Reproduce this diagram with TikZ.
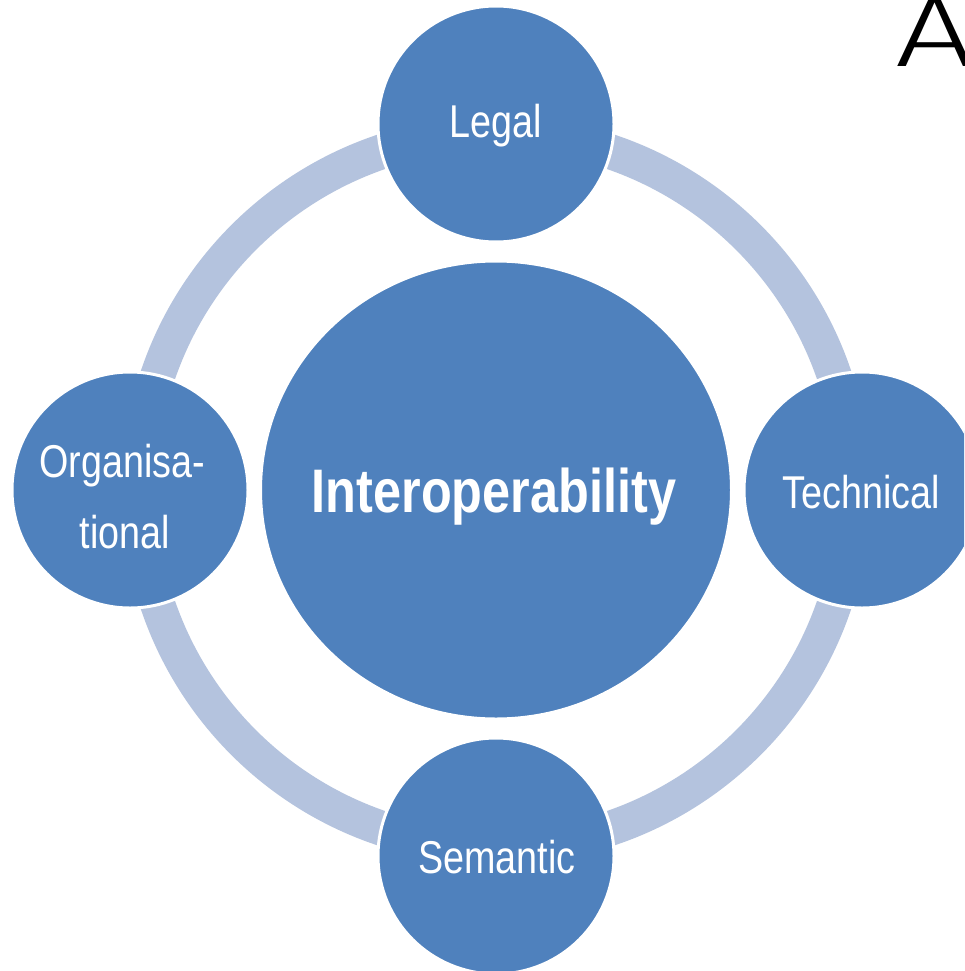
\documentclass[tikz,border=0pt]{standalone}
\usepackage{fontspec}
\usetikzlibrary{shapes.geometric}
\newfontfamily\narrowfont{Liberation Sans}[FakeStretch=0.82]
\IfFontExistsTF{Fira Sans Light}
  {\newfontfamily\thinfont{Fira Sans Light}[FakeStretch=1.4]}
  {\IfFontExistsTF{Lato Light}
    {\newfontfamily\thinfont{Lato Light}[FakeStretch=1.4]}
    {\IfFontExistsTF{Poppins Light}
      {\newfontfamily\thinfont{Poppins Light}[FakeStretch=1.4]}
      {\newfontfamily\thinfont{Liberation Sans}}}}
\definecolor{bubblefill}{RGB}{79,129,189}
\definecolor{ringcol}{RGB}{180,195,222}
\tikzset{
  bubble/.style={circle, fill=bubblefill, draw=white, line width=3pt, minimum size=236pt, inner sep=0pt},
  hub/.style={ellipse, fill=bubblefill, draw=white, line width=3pt, minimum width=471pt, minimum height=458pt, inner sep=0pt},
  ringline/.style={draw=ringcol, line width=35pt},
  lbl/.style={text=white, inner sep=0pt, anchor=base, font=\narrowfont\fontsize{46}{55}\selectfont},
  hublbl/.style={text=white, inner sep=0pt, anchor=base, font=\narrowfont\bfseries\fontsize{61.5}{70}\selectfont}
}
\begin{document}
\begin{tikzpicture}[x=1pt,y=-1pt]
\useasboundingbox (0,0) rectangle (964,971);
\clip (0,0) rectangle (964,971);
\fill[white] (0,0) rectangle (964,971);
\coordinate (c) at (496,490);
\draw[ringline] (c) circle (357pt);
\node[hub] (hub) at (c) {};
\node[bubble] (legal) at (496,124) {};
\node[bubble] (org) at (130,490) {};
\node[bubble] (tech) at (862,490) {};
\node[bubble] (sem) at (496,856) {};
\node[hublbl] (hubT) at (494,512) {Interoperability};
\node[lbl] (legalT) at (496,137) {Legal};
\node[lbl] (techT) at (861,508) {Technical};
\node[lbl] (semT) at (497,873) {Semantic};
\node[lbl] (orgT1) at (122,477) {Organisa-};
\node[lbl] (orgT2) at (125,548) {tional};
\node[anchor=base west, inner sep=0pt, font=\thinfont\fontsize{100}{100}\selectfont] (A) at (895,67) {A};
\end{tikzpicture}
\end{document}
